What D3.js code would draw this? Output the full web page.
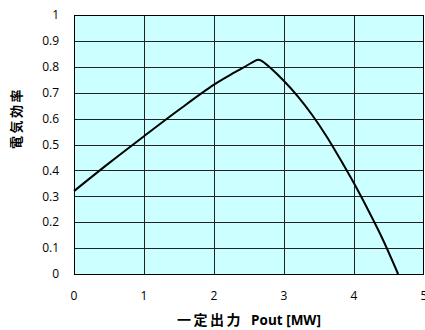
<!DOCTYPE html>
<html>
<head>
<meta charset="utf-8">
<script src="https://cdn.jsdelivr.net/npm/d3@7"></script>
<style>
  html, body { margin: 0; padding: 0; background: #fff; }
  svg { display: block; }
  .tick-label { font-family: "Open Sans", "Noto Sans", sans-serif; font-size: 12px; fill: #000; }
  .axis-title { font-family: "Noto Sans CJK JP", "Noto Sans", sans-serif; font-weight: bold; fill: #000; }
</style>
</head>
<body>
<svg id="chart" width="425" height="330"></svg>
<script>
// efficiency curve
const pout = [0, 0.5, 1.0, 1.5, 2.0, 2.3, 2.47, 2.58, 2.63, 2.68, 2.8, 3.0, 3.2, 3.4, 3.6, 3.8, 4.0, 4.2, 4.4, 4.63];
const efficiency = [0.32, 0.428, 0.532, 0.634, 0.731, 0.779, 0.805, 0.822, 0.827, 0.823, 0.797, 0.745, 0.685, 0.615, 0.535, 0.445, 0.35, 0.248, 0.14, 0];
const xTicks = [0, 1, 2, 3, 4, 5];
const yTicks = [0, 0.1, 0.2, 0.3, 0.4, 0.5, 0.6, 0.7, 0.8, 0.9, 1];
const xTitle = "一定出力";
const xUnit = "Pout [MW]";
const yTitle = "電気効率";

const svg = d3.select("#chart");

const x = d3.scaleLinear().domain([0, 5]).range([74, 424]);
const y = d3.scaleLinear().domain([0, 1]).range([274, 15]);

// plot background
svg.append("rect")
  .attr("x", x(0)).attr("y", y(1))
  .attr("width", x(5) - x(0)).attr("height", y(0) - y(1))
  .attr("fill", "#ccffff");

const crisp = v => Math.round(v) + 0.5;

// gridlines
svg.append("g").selectAll("line")
  .data(yTicks)
  .join("line")
  .attr("x1", x(0)).attr("x2", x(5))
  .attr("y1", d => crisp(y(d))).attr("y2", d => crisp(y(d)))
  .attr("stroke", "#222").attr("stroke-width", 1);

svg.append("g").selectAll("line")
  .data(xTicks.slice(1, -1))
  .join("line")
  .attr("y1", y(1)).attr("y2", y(0))
  .attr("x1", d => crisp(x(d))).attr("x2", d => crisp(x(d)))
  .attr("stroke", "#222").attr("stroke-width", 1);

// plot border
svg.append("rect")
  .attr("x", crisp(x(0))).attr("y", crisp(y(1)))
  .attr("width", Math.round(x(5)) - Math.round(x(0)) - 1)
  .attr("height", Math.round(y(0)) - Math.round(y(1)))
  .attr("fill", "none").attr("stroke", "#000").attr("stroke-width", 1);

// curve
const line = d3.line()
  .x((d, i) => x(pout[i]))
  .y(d => y(d))
  .curve(d3.curveCatmullRom.alpha(0.5));

svg.append("path")
  .datum(efficiency)
  .attr("d", line)
  .attr("fill", "none")
  .attr("stroke", "#000")
  .attr("stroke-width", 2);

// tick labels
svg.append("g").selectAll("text")
  .data(yTicks)
  .join("text")
  .attr("class", "tick-label")
  .attr("x", 59)
  .attr("y", d => y(d))
  .attr("dy", "0.35em")
  .attr("text-anchor", "end")
  .text(d => d);

svg.append("g").selectAll("text")
  .data(xTicks)
  .join("text")
  .attr("class", "tick-label")
  .attr("x", d => x(d))
  .attr("y", 300)
  .attr("text-anchor", "middle")
  .text(d => d);

// axis titles
const xt = svg.append("text")
  .attr("class", "axis-title")
  .attr("x", 249).attr("y", 325)
  .attr("text-anchor", "middle")
  .attr("font-size", 14);
xt.append("tspan").attr("letter-spacing", "2.5px").text(xTitle);
xt.append("tspan")
  .attr("font-family", "'Open Sans', sans-serif")
  .attr("dx", 8)
  .attr("font-size", 13.5)
  .text(xUnit);

svg.append("text")
  .attr("class", "axis-title")
  .attr("transform", "translate(21,118) rotate(-90)")
  .attr("text-anchor", "middle")
  .attr("font-size", 13)
  .attr("letter-spacing", "2.5px")
  .text(yTitle);
</script>
</body>
</html>
